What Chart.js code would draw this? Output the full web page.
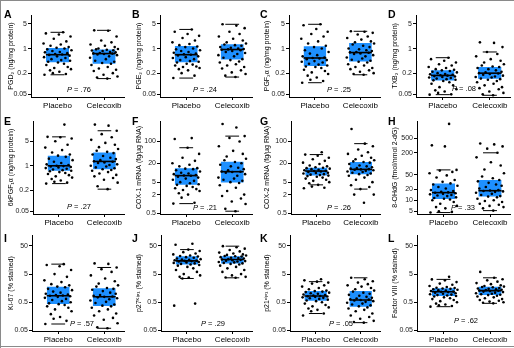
<!DOCTYPE html>
<html>
<head>
<meta charset="utf-8">
<title>Placebo vs Celecoxib biomarkers</title>
<script src="https://cdn.jsdelivr.net/npm/chart.js@4.4.1/dist/chart.umd.min.js"></script>
<style>
  body { margin: 0; background: #fff; font-family: "Liberation Sans", Arial, sans-serif; }
  #fig { position: relative; width: 514px; height: 348px; overflow: hidden; background: #fff; }
  .panel { position: absolute; }
  .panel canvas { position: absolute; left: 0; top: 0; }
  .lbl { position: absolute; font-weight: bold; font-size: 10.5px; line-height: 10px; color: #000; }
  .pval { position: absolute; font-size: 7.5px; line-height: 8px; color: #000; transform: translate(-50%, -50%); white-space: nowrap; }
  .frame { position: absolute; background: #8a8a8a; }
</style>
</head>
<body>
<div id="fig"></div>
<script>
// categories
var catLabels = ['Placebo', 'Celecoxib'];

// horizontal jitter (in category units), one per point
var jitterA = [0.12,-0.25,0.03,0.28,-0.08,0.19,-0.30,0.07,-0.15,0.24,-0.02,0.15,-0.22,0.30,-0.11,0.05,-0.27,0.21,-0.05,0.10,
               -0.18,0.26,-0.01,-0.29,0.17,-0.13,0.08,0.27,-0.20,0.01,0.14,-0.24,0.22,-0.07,0.29,-0.16,0.04,-0.10,0.18,-0.28];
var jitterB = [-0.21,0.09,0.27,-0.06,0.16,-0.29,0.02,0.23,-0.12,0.30,-0.17,0.06,0.20,-0.26,-0.03,0.13,0.25,-0.09,-0.23,0.18,
               0.00,-0.14,0.28,0.11,-0.30,0.04,-0.19,0.22,-0.04,0.15,-0.27,0.08,-0.11,0.26,-0.22,0.19,-0.01,0.29,-0.15,0.07];

// tick labels
var ticksProtein = [0.05, 0.2, 1, 5];
var ticksMrna = [0.5, 2, 5, 20, 100];
var ticksOhdg = [5, 10, 20, 50, 200, 500];
var ticksStain = [0.05, 0.5, 5, 50];

// box stats per group: [lower whisker, q1, median, q3, upper whisker]
var pgd2Box = [[0.18, 0.41, 0.67, 1.04, 2.9], [0.14, 0.37, 0.72, 0.94, 3.3]];
var pge2Box = [[0.145, 0.41, 0.67, 1.19, 3.5], [0.155, 0.485, 0.94, 1.33, 4.9]];
var pgf2aBox = [[0.107, 0.32, 0.54, 1.16, 4.9], [0.18, 0.43, 0.77, 1.45, 3.1]];
var txb2Box = [[0.049, 0.124, 0.172, 0.24, 0.55], [0.047, 0.139, 0.2, 0.30, 0.8]];
var kpgfBox = [[0.31, 0.72, 1.0, 1.93, 6.7], [0.215, 0.8, 1.33, 2.4, 10]];
var cox1Box = [[1.03, 4.1, 8.1, 13.8, 63], [0.59, 4.9, 10.8, 22.4, 148]];
var cox2Box = [[4.1, 8.1, 11.3, 14.5, 38], [3.0, 8.9, 12.8, 22, 85]];
var ohdgBox = [[4.6, 10.9, 16.2, 29, 68], [5.2, 12.6, 18.3, 36, 200]];
var ki67Box = [[0.085, 0.435, 0.85, 1.78, 11.3], [0.06, 0.37, 0.79, 1.56, 8.6]];
var p27Box = [[3.5, 11, 14.8, 21.6, 37], [3.7, 11.9, 16.5, 21.6, 49]];
var p21Box = [[0.2, 0.57, 0.84, 1.26, 2.7], [0.095, 0.35, 0.6, 1.26, 3.7]];
var f8Box = [[0.35, 0.84, 1.19, 1.56, 3.25], [0.46, 0.9, 1.3, 1.78, 3.7]];

// individual values
var pgd2Placebo = [2.9,2.7,2.5,2.2,1.9,1.6,1.4,1.3,1.2,1.1,1.05,1.0,0.95,0.9,0.85,0.8,0.78,0.74,0.7,0.68,0.66,0.63,0.6,0.57,0.54,0.5,0.47,0.45,0.42,0.4,0.37,0.34,0.3,0.28,0.26,0.24,0.22,0.2,0.19,0.18];
var pgd2Celecoxib = [3.3,3.2,2.2,1.7,1.5,1.3,1.2,1.1,1.0,0.97,0.95,0.93,0.9,0.88,0.85,0.8,0.78,0.75,0.73,0.72,0.7,0.68,0.65,0.6,0.55,0.5,0.45,0.42,0.39,0.37,0.34,0.3,0.27,0.25,0.23,0.2,0.18,0.16,0.15,0.14];
var pge2Placebo = [3.5,3.0,2.6,2.3,2.0,1.7,1.5,1.35,1.25,1.15,1.1,1.0,0.95,0.9,0.85,0.8,0.76,0.72,0.69,0.67,0.64,0.6,0.57,0.54,0.5,0.47,0.44,0.42,0.4,0.37,0.35,0.33,0.31,0.3,0.28,0.26,0.24,0.2,0.17,0.145];
var pge2Celecoxib = [4.9,4.5,3.8,3.0,2.6,2.2,1.9,1.7,1.5,1.4,1.3,1.25,1.2,1.1,1.05,1.0,0.97,0.95,0.93,0.9,0.85,0.8,0.75,0.7,0.65,0.6,0.55,0.5,0.47,0.43,0.4,0.36,0.33,0.3,0.27,0.24,0.21,0.19,0.17,0.155];
var pgf2aPlacebo = [4.9,4.6,3.6,3.0,2.6,2.2,1.9,1.6,1.4,1.2,1.1,1.0,0.9,0.8,0.72,0.65,0.6,0.56,0.54,0.52,0.5,0.47,0.44,0.42,0.4,0.37,0.35,0.33,0.31,0.3,0.28,0.25,0.23,0.21,0.19,0.17,0.15,0.13,0.12,0.107];
var pgf2aCelecoxib = [3.1,3.0,2.8,2.5,2.2,2.0,1.8,1.6,1.5,1.4,1.3,1.2,1.1,1.0,0.95,0.9,0.85,0.8,0.78,0.76,0.73,0.7,0.65,0.6,0.56,0.52,0.48,0.45,0.42,0.4,0.36,0.33,0.3,0.28,0.26,0.24,0.22,0.2,0.19,0.18];
var txb2Placebo = [0.55,0.5,0.45,0.4,0.36,0.33,0.3,0.28,0.26,0.25,0.24,0.23,0.22,0.21,0.2,0.19,0.185,0.18,0.175,0.17,0.165,0.16,0.155,0.15,0.145,0.14,0.135,0.13,0.125,0.12,0.11,0.1,0.09,0.08,0.07,0.065,0.06,0.055,0.05,0.049];
var txb2Celecoxib = [1.5,1.45,1.1,0.8,0.7,0.6,0.5,0.45,0.4,0.36,0.33,0.31,0.3,0.28,0.26,0.24,0.22,0.21,0.2,0.195,0.19,0.18,0.17,0.16,0.155,0.15,0.14,0.135,0.13,0.12,0.11,0.1,0.09,0.08,0.075,0.07,0.06,0.055,0.05,0.047];
var kpgfPlacebo = [15,6.7,6.5,6.0,5.0,4.0,3.3,2.8,2.4,2.1,1.95,1.8,1.6,1.45,1.3,1.2,1.1,1.05,1.0,0.98,0.95,0.92,0.9,0.86,0.82,0.78,0.75,0.72,0.7,0.66,0.62,0.58,0.54,0.5,0.46,0.42,0.38,0.35,0.33,0.31];
var kpgfCelecoxib = [15,14,10,8,6.5,5.5,4.5,4.0,3.4,3.0,2.7,2.5,2.3,2.1,1.9,1.7,1.55,1.45,1.35,1.3,1.25,1.2,1.1,1.05,1.0,0.95,0.9,0.85,0.8,0.76,0.72,0.66,0.6,0.55,0.5,0.45,0.4,0.33,0.26,0.215];
var cox1Placebo = [128,120,63,40,30,24,20,18,16,14,13.5,13,12,11,10,9.5,9,8.5,8.2,8,7.5,7,6.5,6,5.5,5,4.6,4.3,4.1,3.8,3.5,3.2,3.0,2.8,2.6,2.2,2.0,1.6,1.1,1.03];
var cox1Celecoxib = [360,280,148,130,100,70,50,40,33,28,25,22,20,18,16,14.5,13,12,11,10.8,10.5,10,9,8,7,6.5,6,5.5,5,4.7,4.0,3.3,2.6,2.0,1.8,1.5,1.2,1.0,0.7,0.59];
var cox2Placebo = [45,38,35,30,27,24,21,19,17,16,15,14.5,14,13.5,13,12.5,12,11.5,11.3,11,10.5,10,9.8,9.5,9,8.7,8.4,8.1,7.8,7.4,7,6.5,6,5.5,5,4.6,4.1,3.6,3.3,3.2];
var cox2Celecoxib = [250,85,70,55,45,40,35,30,27,25,23,22,21,19,17,16,15,14,13.5,13,12.8,12.5,12,11.5,11,10.5,10,9.5,9,8.5,8,7,6,5,4,3.5,3.0,2.0,2.0,1.1];
var ohdgPlacebo = [1240,320,300,68,65,60,55,48,42,36,32,29,27,25,23,21,19,18,17,16.5,16,15.5,15,14.5,14,13.5,13,12,11.5,11,10.5,10,9,8,7,6.5,6,5,4.8,4.6];
var ohdgCelecoxib = [360,340,300,260,200,150,110,90,70,55,45,40,36,33,30,27,25,23,21,19,18.5,18,17.5,17,16,15,14,13,12.6,12,11,10,9.5,9,8,7.5,7,6.5,6,5.2];
var ki67Placebo = [11.3,10.5,9.5,7,5,4,3,2.6,2.2,2.0,1.8,1.7,1.5,1.35,1.2,1.1,1.0,0.95,0.9,0.87,0.85,0.82,0.78,0.72,0.66,0.6,0.55,0.5,0.46,0.43,0.4,0.36,0.32,0.28,0.24,0.19,0.15,0.13,0.11,0.085];
var ki67Celecoxib = [12,11.5,8.6,7.5,6,4.5,3.5,2.8,2.3,2.0,1.8,1.6,1.5,1.4,1.25,1.1,1.0,0.9,0.85,0.8,0.78,0.75,0.7,0.64,0.58,0.52,0.47,0.42,0.38,0.36,0.32,0.28,0.24,0.2,0.17,0.14,0.12,0.09,0.065,0.06];
var p27Placebo = [60,55,37,33,30,27,25,23,22,21,20,19,18,17,16.5,16,15.5,15,14.8,14.5,14,13.5,13,12.5,12,11.5,11,10.5,10,9,8,7,6,5,4.5,4,3.8,3.5,0.45,0.38];
var p27Celecoxib = [49,45,40,36,32,29,27,25,24,23,22,21.5,21,20,19,18.5,18,17,16.5,16,15.5,15,14.5,14,13.5,13,12.5,12,11.5,11,10,9,8,7,6,5,4.5,4,3.8,3.7];
var p21Placebo = [3.3,3.0,2.7,2.5,2.3,2.0,1.8,1.6,1.45,1.3,1.25,1.2,1.15,1.1,1.05,1.0,0.95,0.9,0.87,0.84,0.82,0.8,0.78,0.75,0.72,0.7,0.66,0.62,0.58,0.55,0.5,0.45,0.4,0.36,0.33,0.3,0.27,0.24,0.2,0.17];
var p21Celecoxib = [3.7,3.3,2.8,2.5,2.2,2.0,1.8,1.6,1.45,1.3,1.2,1.1,1.0,0.92,0.85,0.78,0.72,0.68,0.64,0.62,0.6,0.58,0.55,0.52,0.48,0.45,0.42,0.39,0.36,0.33,0.3,0.27,0.24,0.2,0.17,0.15,0.13,0.11,0.1,0.095];
var f8Placebo = [4.0,3.25,3.0,2.6,2.3,2.1,1.9,1.75,1.65,1.6,1.55,1.5,1.45,1.4,1.35,1.3,1.25,1.2,1.19,1.15,1.1,1.05,1.0,0.97,0.94,0.9,0.87,0.84,0.8,0.75,0.7,0.65,0.6,0.55,0.5,0.45,0.42,0.39,0.37,0.35];
var f8Celecoxib = [6.0,3.7,3.3,3.0,2.7,2.4,2.2,2.0,1.9,1.8,1.75,1.7,1.6,1.55,1.5,1.45,1.4,1.35,1.3,1.28,1.25,1.2,1.15,1.1,1.05,1.0,0.97,0.93,0.9,0.85,0.8,0.75,0.7,0.65,0.6,0.57,0.53,0.5,0.48,0.46];

var pValues = ['.76', '.24', '.25', '.08', '.27', '.21', '.26', '.33', '.57', '.29', '.05', '.62'];

var FONT = '"Liberation Sans", Arial, sans-serif';
var BLUE = 'rgb(30,144,255)';

// layout: column lefts/widths, row tops/heights, chart-area top/bottom inside each row
var colLeft = [0, 128, 256, 384], colWidth = [128, 128, 128, 130];
var rowTop = [0, 114, 230], rowHeight = [114, 116, 118];
var areaTop = [15, 7, 5], areaBottom = [97, 100, 101];
var letterTop = [9, 2, 3];

var panels = [
  {k:'A', t:'PGD\u2082 (ng/mg protein)', pl:pgd2Placebo, ce:pgd2Celecoxib, box:pgd2Box, ticks:ticksProtein, min:0.042, max:9, ax:31, px:79, py:90},
  {k:'B', t:'PGE\u2082 (ng/mg protein)', pl:pge2Placebo, ce:pge2Celecoxib, box:pge2Box, ticks:ticksProtein, min:0.042, max:9, ax:32, px:77, py:90},
  {k:'C', t:'PGF\u2082\u03b1 (ng/mg protein)', pl:pgf2aPlacebo, ce:pgf2aCelecoxib, box:pgf2aBox, ticks:ticksProtein, min:0.042, max:9, ax:33, px:83, py:90},
  {k:'D', t:'TXB\u2082 (ng/mg protein)', pl:txb2Placebo, ce:txb2Celecoxib, box:txb2Box, ticks:ticksProtein, min:0.042, max:9, ax:32, px:80, py:89},
  {k:'E', t:'6kPGF\u2081\u03b1 (ng/mg protein)', pl:kpgfPlacebo, ce:kpgfCelecoxib, box:kpgfBox, ticks:ticksProtein, min:0.042, max:19, ax:33, px:79, py:93},
  {k:'F', t:'COX-1 mRNA (fg/\u00b5g RNA)', pl:cox1Placebo, ce:cox1Celecoxib, box:cox1Box, ticks:ticksMrna, min:0.48, max:450, ax:32, px:77, py:94},
  {k:'G', t:'COX-2 mRNA (fg/\u00b5g RNA)', pl:cox2Placebo, ce:cox2Celecoxib, box:cox2Box, ticks:ticksMrna, min:0.48, max:450, ax:35, px:83, py:94},
  {k:'H', t:'8-OHdG (fmol/nmol 2-dG)', pl:ohdgPlacebo, ce:ohdgCelecoxib, box:ohdgBox, ticks:ticksOhdg, min:4.2, max:1490, ax:33, px:79, py:94},
  {k:'I', t:'Ki-67 (% stained)', pl:ki67Placebo, ce:ki67Celecoxib, box:ki67Box, ticks:ticksStain, min:0.048, max:120, ax:32, px:82, py:94},
  {k:'J', t:'p27\u1d37\u2071\u1d56\u00b9 (% stained)', pl:p27Placebo, ce:p27Celecoxib, box:p27Box, ticks:ticksStain, min:0.048, max:120, ax:33, px:85, py:94},
  {k:'K', t:'p21\u1d9c\u2071\u1d56\u00b9 (% stained)', pl:p21Placebo, ce:p21Celecoxib, box:p21Box, ticks:ticksStain, min:0.048, max:120, ax:34, px:85, py:94},
  {k:'L', t:'Factor VIII (% stained)', pl:f8Placebo, ce:f8Celecoxib, box:f8Box, ticks:ticksStain, min:0.048, max:120, ax:33, px:82, py:91}
];

function seg(c, half, y) {
  return [{x: c - half, y: y}, {x: c + half, y: y}];
}

function groupSets(values, box, c, jit) {
  return [
    // box body: q3 line filled down to q1
    {data: seg(c, 0.25, box[3]), showLine: true, fill: {value: box[1]}, backgroundColor: BLUE,
     borderColor: 'rgba(0,0,0,0)', borderWidth: 0, pointRadius: 0, order: 3},
    // jittered points
    {data: values.map(function (v, i) { return {x: c + jit[i], y: v}; }), showLine: false,
     pointRadius: 1.3, backgroundColor: '#000', borderWidth: 0, order: 2},
    // median
    {data: seg(c, 0.25, box[2]), showLine: true, borderColor: '#000', borderWidth: 1.6, pointRadius: 0, order: 1},
    // whisker caps
    {data: seg(c, 0.15, box[4]), showLine: true, borderColor: '#000', borderWidth: 1, pointRadius: 0, order: 1},
    {data: seg(c, 0.15, box[0]), showLine: true, borderColor: '#000', borderWidth: 1, pointRadius: 0, order: 1}
  ];
}

var fig = document.getElementById('fig');

panels.forEach(function (p, idx) {
  var col = idx % 4, row = Math.floor(idx / 4);
  var w = colWidth[col], h = rowHeight[row];
  var div = document.createElement('div');
  div.className = 'panel';
  div.style.left = colLeft[col] + 'px';
  div.style.top = rowTop[row] + 'px';
  div.style.width = w + 'px';
  div.style.height = h + 'px';
  var cv = document.createElement('canvas');
  cv.width = w; cv.height = h;
  cv.style.width = w + 'px'; cv.style.height = h + 'px';
  div.appendChild(cv);

  var letter = document.createElement('div');
  letter.className = 'lbl';
  letter.textContent = p.k;
  letter.style.left = '4px';
  letter.style.top = letterTop[row] + 'px';
  div.appendChild(letter);

  var pv = document.createElement('div');
  pv.className = 'pval';
  pv.innerHTML = '<i>P</i> = ' + pValues[idx];
  pv.style.left = p.px + 'px';
  pv.style.top = p.py + 'px';
  div.appendChild(pv);
  fig.appendChild(div);

  var xHeight = h - areaBottom[row];
  var right = w - p.ax - 94;
  var datasets = groupSets(p.pl, p.box[0], 1, jitterA).concat(groupSets(p.ce, p.box[1], 2, jitterB));

  new Chart(cv.getContext('2d'), {
    type: 'scatter',
    data: {datasets: datasets},
    options: {
      responsive: false,
      animation: false,
      devicePixelRatio: 1,
      layout: {padding: {top: areaTop[row], left: 0, right: right, bottom: 0}},
      plugins: {legend: {display: false}, tooltip: {enabled: false}},
      scales: {
        x: {
          type: 'linear', min: 0.43, max: 2.43,
          afterBuildTicks: function (s) { s.ticks = [{value: 1}, {value: 2}]; },
          afterFit: function (s) { s.height = xHeight; },
          grid: {display: true, drawOnChartArea: false, drawTicks: true, tickLength: 3, color: '#000'},
          border: {display: true, color: '#000', width: 1},
          ticks: {font: {family: FONT, size: 8}, color: '#000', padding: 1, maxRotation: 0,
                  callback: function (v) { return catLabels[v - 1]; }}
        },
        y: {
          type: 'logarithmic', min: p.min, max: p.max,
          afterBuildTicks: function (s) { s.ticks = p.ticks.map(function (v) { return {value: v}; }); },
          afterFit: function (s) { s.width = p.ax; },
          grid: {display: true, drawOnChartArea: false, drawTicks: true, tickLength: 3, color: '#000'},
          border: {display: true, color: '#000', width: 1},
          ticks: {font: {family: FONT, size: 7}, color: '#222', padding: 1, autoSkip: false,
                  callback: function (v) { return String(v); }},
          title: {display: true, text: p.t, font: {family: FONT, size: 7}, color: '#000', padding: {top: 7, bottom: 0}}
        }
      }
    }
  });
});

// thin grey frame round the figure
[['0px','0px','514px','1px'], ['0px','0px','1px','348px'], ['0px','346px','514px','1px']].forEach(function (f) {
  var d = document.createElement('div');
  d.className = 'frame';
  d.style.left = f[0]; d.style.top = f[1]; d.style.width = f[2]; d.style.height = f[3];
  fig.appendChild(d);
});
</script>
</body>
</html>
